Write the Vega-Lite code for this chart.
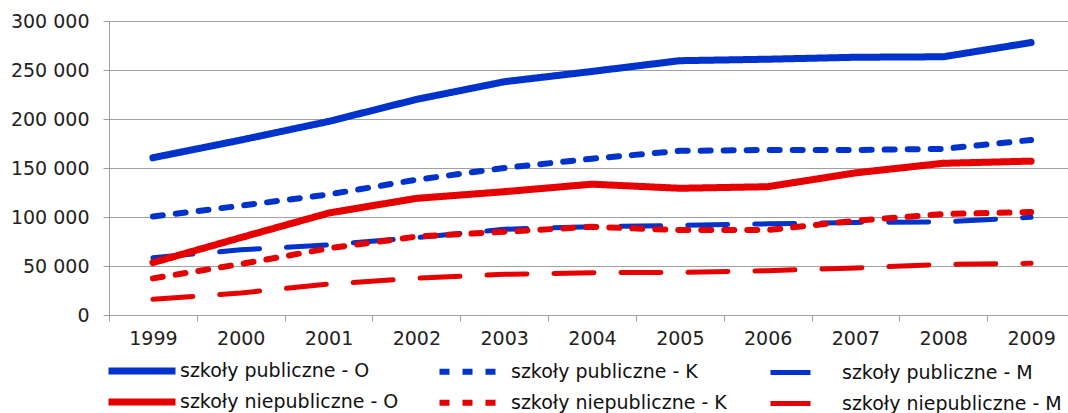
{
  "$schema": "https://vega.github.io/schema/vega-lite/v6.json",
  "width": 959,
  "height": 294,
  "autosize": "none",
  "padding": {"left": 109, "top": 21, "right": 0, "bottom": 98},
  "background": "white",
  "title": {"text": "(w tysiącach)", "anchor": "start", "frame": "group", "font": "Liberation Serif", "fontSize": 29, "fontWeight": "normal", "color": "black", "offset": 15, "dx": -44},
  "config": {
    "view": {"stroke": null},
    "font": "DejaVu Sans",
    "locale": {"number": {"decimal": ",", "thousands": " ", "grouping": [3], "currency": ["", " zł"]}},
    "legend": {"title": null, "orient": "none", "legendX": -4, "direction": "horizontal", "columns": 3, "symbolType": "stroke", "symbolSize": 4489, "labelFont": "DejaVu Sans", "labelFontSize": 19, "labelColor": "#111111", "labelOffset": 1, "labelLimit": 400, "padding": 0, "gridAlign": "all"}
  },
  "data": {"values": [
    {"rok": "1999", "seria": "szkoły publiczne - O", "v": 160500},
    {"rok": "2000", "seria": "szkoły publiczne - O", "v": 178500},
    {"rok": "2001", "seria": "szkoły publiczne - O", "v": 197500},
    {"rok": "2002", "seria": "szkoły publiczne - O", "v": 220000},
    {"rok": "2003", "seria": "szkoły publiczne - O", "v": 238000},
    {"rok": "2004", "seria": "szkoły publiczne - O", "v": 248500},
    {"rok": "2005", "seria": "szkoły publiczne - O", "v": 259500},
    {"rok": "2006", "seria": "szkoły publiczne - O", "v": 261000},
    {"rok": "2007", "seria": "szkoły publiczne - O", "v": 263000},
    {"rok": "2008", "seria": "szkoły publiczne - O", "v": 263500},
    {"rok": "2009", "seria": "szkoły publiczne - O", "v": 278000},
    {"rok": "1999", "seria": "szkoły publiczne - K", "v": 100500},
    {"rok": "2000", "seria": "szkoły publiczne - K", "v": 111500},
    {"rok": "2001", "seria": "szkoły publiczne - K", "v": 123000},
    {"rok": "2002", "seria": "szkoły publiczne - K", "v": 138000},
    {"rok": "2003", "seria": "szkoły publiczne - K", "v": 150000},
    {"rok": "2004", "seria": "szkoły publiczne - K", "v": 159500},
    {"rok": "2005", "seria": "szkoły publiczne - K", "v": 167500},
    {"rok": "2006", "seria": "szkoły publiczne - K", "v": 168400},
    {"rok": "2007", "seria": "szkoły publiczne - K", "v": 168400},
    {"rok": "2008", "seria": "szkoły publiczne - K", "v": 169500},
    {"rok": "2009", "seria": "szkoły publiczne - K", "v": 178600},
    {"rok": "1999", "seria": "szkoły publiczne - M", "v": 58500},
    {"rok": "2000", "seria": "szkoły publiczne - M", "v": 66500},
    {"rok": "2001", "seria": "szkoły publiczne - M", "v": 71500},
    {"rok": "2002", "seria": "szkoły publiczne - M", "v": 79000},
    {"rok": "2003", "seria": "szkoły publiczne - M", "v": 87500},
    {"rok": "2004", "seria": "szkoły publiczne - M", "v": 90000},
    {"rok": "2005", "seria": "szkoły publiczne - M", "v": 91500},
    {"rok": "2006", "seria": "szkoły publiczne - M", "v": 93000},
    {"rok": "2007", "seria": "szkoły publiczne - M", "v": 94500},
    {"rok": "2008", "seria": "szkoły publiczne - M", "v": 95000},
    {"rok": "2009", "seria": "szkoły publiczne - M", "v": 99700},
    {"rok": "1999", "seria": "szkoły niepubliczne - O", "v": 53500},
    {"rok": "2000", "seria": "szkoły niepubliczne - O", "v": 79000},
    {"rok": "2001", "seria": "szkoły niepubliczne - O", "v": 104000},
    {"rok": "2002", "seria": "szkoły niepubliczne - O", "v": 119000},
    {"rok": "2003", "seria": "szkoły niepubliczne - O", "v": 125800},
    {"rok": "2004", "seria": "szkoły niepubliczne - O", "v": 133500},
    {"rok": "2005", "seria": "szkoły niepubliczne - O", "v": 129300},
    {"rok": "2006", "seria": "szkoły niepubliczne - O", "v": 130900},
    {"rok": "2007", "seria": "szkoły niepubliczne - O", "v": 145000},
    {"rok": "2008", "seria": "szkoły niepubliczne - O", "v": 154800},
    {"rok": "2009", "seria": "szkoły niepubliczne - O", "v": 157000},
    {"rok": "1999", "seria": "szkoły niepubliczne - K", "v": 37400},
    {"rok": "2000", "seria": "szkoły niepubliczne - K", "v": 52000},
    {"rok": "2001", "seria": "szkoły niepubliczne - K", "v": 68000},
    {"rok": "2002", "seria": "szkoły niepubliczne - K", "v": 80000},
    {"rok": "2003", "seria": "szkoły niepubliczne - K", "v": 85000},
    {"rok": "2004", "seria": "szkoły niepubliczne - K", "v": 90000},
    {"rok": "2005", "seria": "szkoły niepubliczne - K", "v": 86700},
    {"rok": "2006", "seria": "szkoły niepubliczne - K", "v": 86700},
    {"rok": "2007", "seria": "szkoły niepubliczne - K", "v": 96200},
    {"rok": "2008", "seria": "szkoły niepubliczne - K", "v": 103000},
    {"rok": "2009", "seria": "szkoły niepubliczne - K", "v": 105000},
    {"rok": "1999", "seria": "szkoły niepubliczne - M", "v": 16000},
    {"rok": "2000", "seria": "szkoły niepubliczne - M", "v": 22500},
    {"rok": "2001", "seria": "szkoły niepubliczne - M", "v": 31500},
    {"rok": "2002", "seria": "szkoły niepubliczne - M", "v": 37500},
    {"rok": "2003", "seria": "szkoły niepubliczne - M", "v": 41500},
    {"rok": "2004", "seria": "szkoły niepubliczne - M", "v": 43200},
    {"rok": "2005", "seria": "szkoły niepubliczne - M", "v": 43500},
    {"rok": "2006", "seria": "szkoły niepubliczne - M", "v": 45200},
    {"rok": "2007", "seria": "szkoły niepubliczne - M", "v": 48000},
    {"rok": "2008", "seria": "szkoły niepubliczne - M", "v": 51700},
    {"rok": "2009", "seria": "szkoły niepubliczne - M", "v": 52700}
  ]},
  "encoding": {
    "x": {
      "field": "rok", "type": "ordinal", "bandPosition": 0.5,
      "scale": {"type": "band", "paddingInner": 0, "paddingOuter": 0, "range": [0, 966]},
      "axis": {"title": null, "tickBand": "extent", "labelAngle": 0, "labelFont": "DejaVu Sans", "labelFontSize": 19, "labelColor": "#222222", "domainColor": "#a0a0a0", "tickColor": "#a0a0a0", "tickSize": 6, "labelPadding": 8, "grid": false}
    },
    "y": {
      "field": "v", "type": "quantitative",
      "scale": {"domain": [0, 300000], "nice": false},
      "axis": {"title": null, "values": [0, 50000, 100000, 150000, 200000, 250000, 300000], "format": ",d", "labelFont": "DejaVu Sans", "labelFontSize": 19, "labelColor": "#222222", "domainColor": "#a0a0a0", "tickColor": "#a0a0a0", "gridColor": "#a0a0a0", "grid": true, "tickSize": 6, "labelPadding": 14}
    }
  },
  "layer": [
    {
      "transform": [{"filter": "indexof(datum.seria, 'niepubliczne') < 0"}],
      "mark": {"type": "line", "strokeCap": "round", "strokeJoin": "round"},
      "encoding": {
        "color": {
          "field": "seria", "type": "nominal",
          "scale": {"domain": ["szkoły publiczne - O", "szkoły publiczne - K", "szkoły publiczne - M"], "range": ["#0033cc", "#0033cc", "#0033cc"]},
          "legend": {"legendY": 313, "columnPadding": 56}
        },
        "strokeDash": {
          "field": "seria", "type": "nominal",
          "scale": {"domain": ["szkoły publiczne - O", "szkoły publiczne - K", "szkoły publiczne - M"], "range": [[1, 0], [10, 13], [40, 27]]},
          "legend": {"legendY": 313, "columnPadding": 56}
        },
        "strokeWidth": {
          "field": "seria", "type": "nominal",
          "scale": {"domain": ["szkoły publiczne - O", "szkoły publiczne - K", "szkoły publiczne - M"], "range": [7, 5, 5]},
          "legend": {"legendY": 313, "columnPadding": 56}
        }
      }
    },
    {
      "transform": [{"filter": "indexof(datum.seria, 'niepubliczne') >= 0"}],
      "mark": {"type": "line", "strokeCap": "round", "strokeJoin": "round"},
      "encoding": {
        "color": {
          "field": "seria", "type": "nominal",
          "scale": {"domain": ["szkoły niepubliczne - O", "szkoły niepubliczne - K", "szkoły niepubliczne - M"], "range": ["#e60000", "#e60000", "#e60000"]},
          "legend": {"legendY": 344, "columnPadding": 27}
        },
        "strokeDash": {
          "field": "seria", "type": "nominal",
          "scale": {"domain": ["szkoły niepubliczne - O", "szkoły niepubliczne - K", "szkoły niepubliczne - M"], "range": [[1, 0], [10, 13], [40, 27]]},
          "legend": {"legendY": 344, "columnPadding": 27}
        },
        "strokeWidth": {
          "field": "seria", "type": "nominal",
          "scale": {"domain": ["szkoły niepubliczne - O", "szkoły niepubliczne - K", "szkoły niepubliczne - M"], "range": [7, 5, 5]},
          "legend": {"legendY": 344, "columnPadding": 27}
        }
      }
    }
  ],
  "resolve": {
    "scale": {"color": "independent", "strokeDash": "independent", "strokeWidth": "independent"},
    "legend": {"color": "independent", "strokeDash": "independent", "strokeWidth": "independent"}
  }
}
